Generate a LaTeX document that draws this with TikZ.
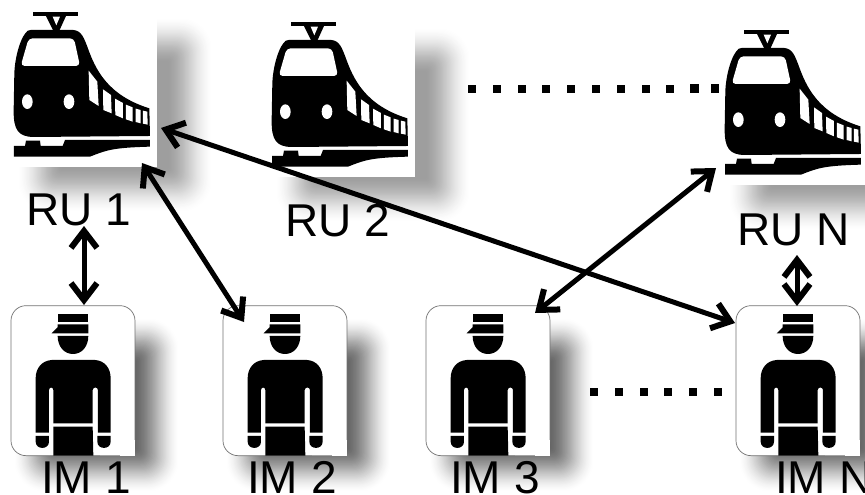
\documentclass[tikz,border=0pt]{standalone}
\usepackage{fontspec}
\setmainfont{Liberation Sans}
\usetikzlibrary{arrows.meta}
\tikzset{
  x=1pt,y=-1pt,
  lbl/.style={inner sep=0pt,font=\fontsize{46}{50}\selectfont,text=black},
  barb/.tip={Straight Barb[length=17pt,width=26pt,line width=6pt]},
  link/.style={line width=5pt,black,{barb}-{barb}},
  dotrow/.style={fill=black},
}
% opaque nested rectangles, outermost first: x1 y1 x2 y2 (half-value edge), blur, max black %
\newcommand{\softshadow}[6]{%
  \foreach \i in {0,...,40}{
    \pgfmathsetmacro{\bl}{#5*(1-\i/20)}
    \pgfmathsetmacro{\tv}{\i/40}
    \pgfmathsetmacro{\lev}{#6*(0.3*\tv+0.7*\tv*\tv*(3-2*\tv))}
    \pgfmathsetmacro{\rad}{max(0.7*(#5+\bl),1)}
    \fill[black!\lev!white,rounded corners=\rad pt]
      ({#1-\bl},{#2-\bl}) rectangle ({#3+\bl},{#4+\bl});
  }
}
\newcommand{\trainpic}[2]{%
  \begin{scope}[shift={(#1,#2)},x=0.3333pt,y=-0.3333pt]
    \fill[white] (5,10) rectangle (472,500);
    \fill[black] (100,37) rectangle (235,48);
    \fill[black] (138,48) -- (160,92) -- (178,92) -- (198,48) -- cycle;
    \fill[white] (158,50) -- (180,50) -- (169,76) -- cycle;
    \fill[black] (92,90) -- (220,90) .. controls (245,92) and (252,115) .. (262,140)
      .. controls (285,205) and (320,285) .. (448,325) -- (450,408) -- (100,411)
      .. controls (55,410) and (40,390) .. (41,330) -- (43,220) .. controls (45,170) and (60,120) .. (76,100) .. controls (80,93) and (85,90) .. (92,90) -- cycle;
    \fill[white,rounded corners=4pt] (86,115) -- (222,115) -- (240,198) -- (62,198) -- cycle;
    \fill[white] (82,305) ellipse [x radius=16,y radius=22];
    \fill[white] (207,305) ellipse [x radius=16,y radius=22];
    \fill[white] (266,212) -- (292,245) -- (296,318) -- (268,300) -- cycle;
    \fill[white] (309,268) -- (333,285) -- (335,340) -- (310,330) -- cycle;
    \fill[white] (345,296) -- (369,309) -- (369,355) -- (346,345) -- cycle;
    \fill[white] (378,314) -- (398,322) -- (398,365) -- (378,358) -- cycle;
    \fill[white] (407,326) -- (422,330) -- (422,370) -- (407,366) -- cycle;
    \fill[white] (429,332) -- (442,335) -- (443,374) -- (429,371) -- cycle;
    \fill[black] (42,438) -- (75,438) -- (78,422) -- (120,422) -- (122,438) -- (188,438) -- (195,420) -- (450,420) -- (450,440)
      .. controls (340,443) and (320,450) .. (270,470) -- (42,470) -- cycle;
  \end{scope}%
}
\newcommand{\personpic}[2]{%
  \begin{scope}[shift={(#1,#2)},x=0.3333pt,y=-0.3333pt]
    \fill[white] (300,400) rectangle (405,497);
    \draw[black!55,fill=white,line width=0.7pt,rounded corners=15pt] (33,47) rectangle (405,497);
    \fill[white] (360,450) rectangle (406,498);
    \fill[black] (173,72) rectangle (265,95);
    \fill[black] (173,103) -- (265,103) -- (265,130) -- (155,130) -- (173,112) -- cycle;
    \fill[black] (173,138) -- (265,138) .. controls (265,170) and (245,192) .. (219,192) .. controls (193,192) and (173,170) .. (173,138) -- cycle;
    \fill[black] (155,210) -- (285,210) .. controls (315,212) and (332,235) .. (332,265) -- (332,428) -- (294,428) -- (294,300)
      .. controls (293,290) and (279,290) .. (278,300) -- (278,400) -- (160,400) -- (160,300)
      .. controls (159,290) and (148,290) .. (147,300) -- (147,428) -- (107,428) -- (107,265)
      .. controls (107,235) and (125,212) .. (155,210) -- cycle;
    \fill[black] (107,438) -- (147,438) -- (147,455) .. controls (147,480) and (107,480) .. (107,455) -- cycle;
    \fill[black] (292,438) -- (332,438) -- (332,455) .. controls (332,480) and (292,480) .. (292,455) -- cycle;
    \fill[black] (160,410) -- (278,410) -- (280,497) -- (160,497) -- cycle;
  \end{scope}%
}
\begin{document}
\begin{tikzpicture}
  \useasboundingbox (0,0) rectangle (865,495);
  \clip (0,0) rectangle (865,495);
  \fill[white] (0,0) rectangle (865,495);
  % shadows
  \softshadow{40}{40}{190}{190}{22}{38}
  \softshadow{298}{50}{448}{200}{22}{38}
  \softshadow{751}{58}{901}{208}{22}{38}
  \softshadow{36}{340}{157}{470}{22}{60}
  \softshadow{248}{340}{369}{470}{22}{60}
  \softshadow{451}{340}{572}{470}{22}{60}
  \softshadow{761}{340}{882}{470}{22}{60}
  % pictures
  \trainpic{0}{0}
  \trainpic{258}{10}
  \trainpic{711}{18}
  \personpic{0}{290}
  \personpic{212}{290}
  \personpic{415}{290}
  \personpic{725}{290}
  % labels
  \node[lbl,anchor=base west] (ru1) at (26,225) {RU 1};
  \node[lbl,anchor=base west] (ru2) at (285,236) {RU 2};
  \node[lbl,anchor=base west] (run) at (737,245) {RU N};
  \node[lbl,anchor=base west] (im1) at (41,493.5) {IM 1};
  \node[lbl,anchor=base west] (im2) at (247,493.5) {IM 2};
  \node[lbl,anchor=base west] (im3) at (450,493.5) {IM 3};
  \node[lbl,anchor=base west] (imn) at (775,493.5) {IM N};
  % dots
  \foreach \k in {0,...,8}{\fill[dotrow] ({468+\k*24.8},85.3) rectangle ++(8,8);}
  \fill[dotrow] (690,84) rectangle ++(8.5,8.5);
  \fill[dotrow] (711,84) rectangle ++(8,8.5);
  \foreach \k in {0,...,5}{\fill[dotrow] ({590+\k*24.8},388) rectangle ++(8,8);}
  % connector ends
  \coordinate (a1) at (84,226);  \coordinate (a2) at (84,305);
  \coordinate (b1) at (142,163); \coordinate (b2) at (244,322);
  \coordinate (c1) at (161,128); \coordinate (c2) at (735,323);
  \coordinate (d1) at (716,168); \coordinate (d2) at (535,313);
  \coordinate (e1) at (797,255); \coordinate (e2) at (797,306);
  \draw[link] (a1) -- (a2);
  \draw[link] (b1) -- (b2);
  \draw[link] (c1) -- (c2);
  \draw[link] (d1) -- (d2);
  \draw[link] (e1) -- (e2);
\end{tikzpicture}
\end{document}
